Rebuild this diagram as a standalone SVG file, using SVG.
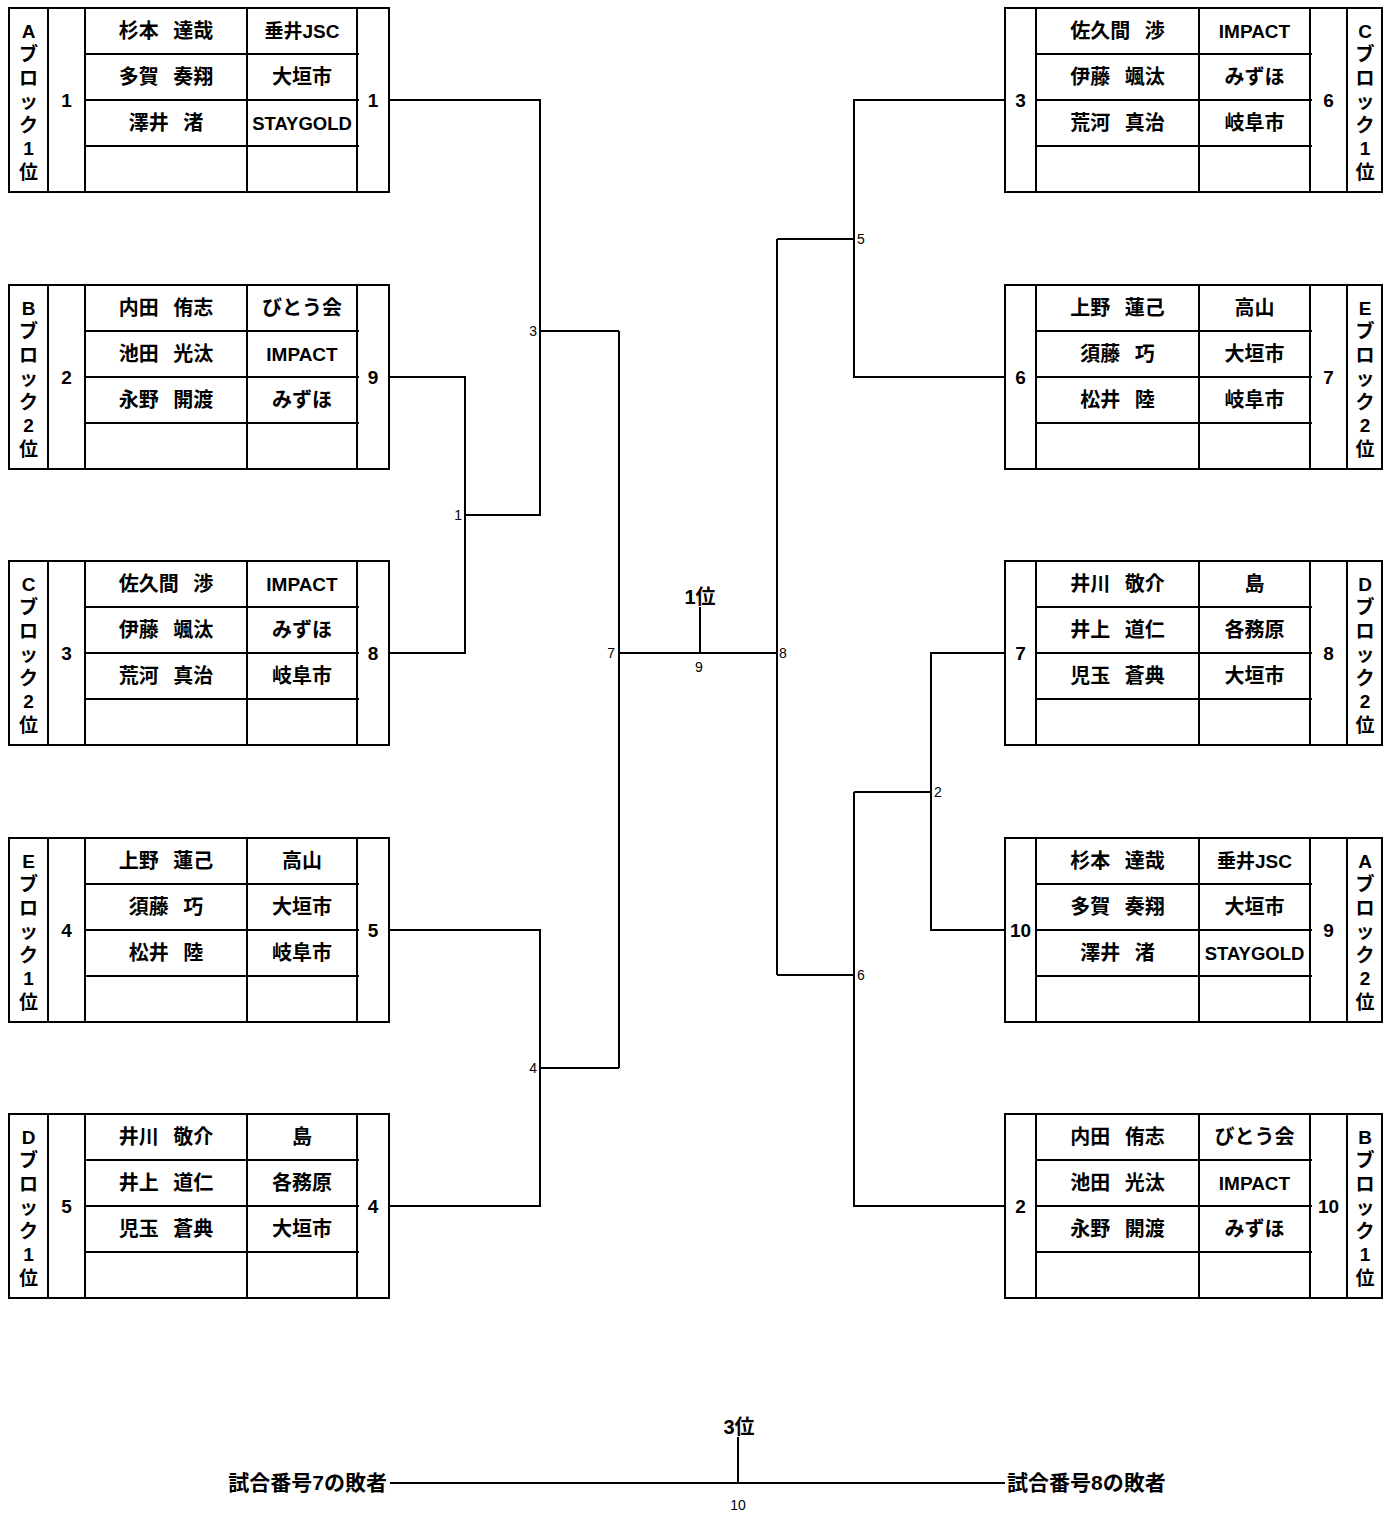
<svg xmlns="http://www.w3.org/2000/svg" xmlns:xlink="http://www.w3.org/1999/xlink" width="1383" height="1517" viewBox="0 0 1383 1517">
<style>
.f{fill:none;stroke:#000;stroke-width:2}
.t{font-family:"Liberation Sans","Noto Sans CJK JP",sans-serif;font-weight:bold;font-size:19px;fill:#000;text-anchor:middle}
.n{font-size:20px;word-spacing:9px}
.j{font-size:20px}
.g{font-size:18.5px}
.b{font-size:21px}
.s{font-family:"Liberation Sans","Noto Sans CJK JP",sans-serif;font-size:14px;fill:#000}
.m{text-anchor:middle}
.e{text-anchor:end}
.c{fill:none;stroke:#000;stroke-width:2}
</style>
<defs>
<g id="frameL" class="f">
<rect x="0" y="0" width="380" height="184"/>
<path d="M39 0V184M76 0V184M238 0V184M348 0V184M76 46H350M76 92H350M76 138H350"/>
</g>
<g id="frameR" class="f">
<rect x="0" y="0" width="377" height="184"/>
<path d="M31 0V184M194 0V184M305 0V184M342 0V184M31 46H307M31 92H307M31 138H307"/>
</g>
</defs>
<rect width="1383" height="1517" fill="#fff"/>

<g id="L1" transform="translate(9,8)">
<use xlink:href="#frameL"/>
<text class="t"><tspan x="19.5" y="29.5">A</tspan><tspan x="19.5" y="53">ブ</tspan><tspan x="19.5" y="76.5">ロ</tspan><tspan x="19.5" y="100">ッ</tspan><tspan x="19.5" y="123.5">ク</tspan><tspan x="19.5" y="147">1</tspan><tspan x="19.5" y="170.5">位</tspan></text>
<text class="t" x="57.5" y="99">1</text>
<text class="t n" x="157" y="30">杉本 達哉</text><text class="t" x="293" y="30">垂井JSC</text>
<text class="t n" x="157" y="76">多賀 奏翔</text><text class="t j" x="293" y="76">大垣市</text>
<text class="t n" x="157" y="122">澤井 渚</text><text class="t g" x="293" y="122">STAYGOLD</text>
<text class="t" x="364" y="99">1</text>
</g>

<g id="L2" transform="translate(9,285)">
<use xlink:href="#frameL"/>
<text class="t"><tspan x="19.5" y="29.5">B</tspan><tspan x="19.5" y="53">ブ</tspan><tspan x="19.5" y="76.5">ロ</tspan><tspan x="19.5" y="100">ッ</tspan><tspan x="19.5" y="123.5">ク</tspan><tspan x="19.5" y="147">2</tspan><tspan x="19.5" y="170.5">位</tspan></text>
<text class="t" x="57.5" y="99">2</text>
<text class="t n" x="157" y="30">内田 侑志</text><text class="t j" x="293" y="30">びとう会</text>
<text class="t n" x="157" y="76">池田 光汰</text><text class="t" x="293" y="76">IMPACT</text>
<text class="t n" x="157" y="122">永野 開渡</text><text class="t j" x="293" y="122">みずほ</text>
<text class="t" x="364" y="99">9</text>
</g>

<g id="L3" transform="translate(9,561)">
<use xlink:href="#frameL"/>
<text class="t"><tspan x="19.5" y="29.5">C</tspan><tspan x="19.5" y="53">ブ</tspan><tspan x="19.5" y="76.5">ロ</tspan><tspan x="19.5" y="100">ッ</tspan><tspan x="19.5" y="123.5">ク</tspan><tspan x="19.5" y="147">2</tspan><tspan x="19.5" y="170.5">位</tspan></text>
<text class="t" x="57.5" y="99">3</text>
<text class="t n" x="157" y="30">佐久間 渉</text><text class="t" x="293" y="30">IMPACT</text>
<text class="t n" x="157" y="76">伊藤 颯汰</text><text class="t j" x="293" y="76">みずほ</text>
<text class="t n" x="157" y="122">荒河 真治</text><text class="t j" x="293" y="122">岐阜市</text>
<text class="t" x="364" y="99">8</text>
</g>

<g id="L4" transform="translate(9,838)">
<use xlink:href="#frameL"/>
<text class="t"><tspan x="19.5" y="29.5">E</tspan><tspan x="19.5" y="53">ブ</tspan><tspan x="19.5" y="76.5">ロ</tspan><tspan x="19.5" y="100">ッ</tspan><tspan x="19.5" y="123.5">ク</tspan><tspan x="19.5" y="147">1</tspan><tspan x="19.5" y="170.5">位</tspan></text>
<text class="t" x="57.5" y="99">4</text>
<text class="t n" x="157" y="30">上野 蓮己</text><text class="t j" x="293" y="30">高山</text>
<text class="t n" x="157" y="76">須藤 巧</text><text class="t j" x="293" y="76">大垣市</text>
<text class="t n" x="157" y="122">松井 陸</text><text class="t j" x="293" y="122">岐阜市</text>
<text class="t" x="364" y="99">5</text>
</g>

<g id="L5" transform="translate(9,1114)">
<use xlink:href="#frameL"/>
<text class="t"><tspan x="19.5" y="29.5">D</tspan><tspan x="19.5" y="53">ブ</tspan><tspan x="19.5" y="76.5">ロ</tspan><tspan x="19.5" y="100">ッ</tspan><tspan x="19.5" y="123.5">ク</tspan><tspan x="19.5" y="147">1</tspan><tspan x="19.5" y="170.5">位</tspan></text>
<text class="t" x="57.5" y="99">5</text>
<text class="t n" x="157" y="30">井川 敬介</text><text class="t j" x="293" y="30">島</text>
<text class="t n" x="157" y="76">井上 道仁</text><text class="t j" x="293" y="76">各務原</text>
<text class="t n" x="157" y="122">児玉 蒼典</text><text class="t j" x="293" y="122">大垣市</text>
<text class="t" x="364" y="99">4</text>
</g>

<g id="R1" transform="translate(1005,8)">
<use xlink:href="#frameR"/>
<text class="t" x="15.5" y="99">3</text>
<text class="t n" x="112.5" y="30">佐久間 渉</text><text class="t" x="249.5" y="30">IMPACT</text>
<text class="t n" x="112.5" y="76">伊藤 颯汰</text><text class="t j" x="249.5" y="76">みずほ</text>
<text class="t n" x="112.5" y="122">荒河 真治</text><text class="t j" x="249.5" y="122">岐阜市</text>
<text class="t" x="323.5" y="99">6</text>
<text class="t"><tspan x="360" y="29.5">C</tspan><tspan x="360" y="53">ブ</tspan><tspan x="360" y="76.5">ロ</tspan><tspan x="360" y="100">ッ</tspan><tspan x="360" y="123.5">ク</tspan><tspan x="360" y="147">1</tspan><tspan x="360" y="170.5">位</tspan></text>
</g>

<g id="R2" transform="translate(1005,285)">
<use xlink:href="#frameR"/>
<text class="t" x="15.5" y="99">6</text>
<text class="t n" x="112.5" y="30">上野 蓮己</text><text class="t j" x="249.5" y="30">高山</text>
<text class="t n" x="112.5" y="76">須藤 巧</text><text class="t j" x="249.5" y="76">大垣市</text>
<text class="t n" x="112.5" y="122">松井 陸</text><text class="t j" x="249.5" y="122">岐阜市</text>
<text class="t" x="323.5" y="99">7</text>
<text class="t"><tspan x="360" y="29.5">E</tspan><tspan x="360" y="53">ブ</tspan><tspan x="360" y="76.5">ロ</tspan><tspan x="360" y="100">ッ</tspan><tspan x="360" y="123.5">ク</tspan><tspan x="360" y="147">2</tspan><tspan x="360" y="170.5">位</tspan></text>
</g>

<g id="R3" transform="translate(1005,561)">
<use xlink:href="#frameR"/>
<text class="t" x="15.5" y="99">7</text>
<text class="t n" x="112.5" y="30">井川 敬介</text><text class="t j" x="249.5" y="30">島</text>
<text class="t n" x="112.5" y="76">井上 道仁</text><text class="t j" x="249.5" y="76">各務原</text>
<text class="t n" x="112.5" y="122">児玉 蒼典</text><text class="t j" x="249.5" y="122">大垣市</text>
<text class="t" x="323.5" y="99">8</text>
<text class="t"><tspan x="360" y="29.5">D</tspan><tspan x="360" y="53">ブ</tspan><tspan x="360" y="76.5">ロ</tspan><tspan x="360" y="100">ッ</tspan><tspan x="360" y="123.5">ク</tspan><tspan x="360" y="147">2</tspan><tspan x="360" y="170.5">位</tspan></text>
</g>

<g id="R4" transform="translate(1005,838)">
<use xlink:href="#frameR"/>
<text class="t" x="15.5" y="99">10</text>
<text class="t n" x="112.5" y="30">杉本 達哉</text><text class="t" x="249.5" y="30">垂井JSC</text>
<text class="t n" x="112.5" y="76">多賀 奏翔</text><text class="t j" x="249.5" y="76">大垣市</text>
<text class="t n" x="112.5" y="122">澤井 渚</text><text class="t g" x="249.5" y="122">STAYGOLD</text>
<text class="t" x="323.5" y="99">9</text>
<text class="t"><tspan x="360" y="29.5">A</tspan><tspan x="360" y="53">ブ</tspan><tspan x="360" y="76.5">ロ</tspan><tspan x="360" y="100">ッ</tspan><tspan x="360" y="123.5">ク</tspan><tspan x="360" y="147">2</tspan><tspan x="360" y="170.5">位</tspan></text>
</g>

<g id="R5" transform="translate(1005,1114)">
<use xlink:href="#frameR"/>
<text class="t" x="15.5" y="99">2</text>
<text class="t n" x="112.5" y="30">内田 侑志</text><text class="t j" x="249.5" y="30">びとう会</text>
<text class="t n" x="112.5" y="76">池田 光汰</text><text class="t" x="249.5" y="76">IMPACT</text>
<text class="t n" x="112.5" y="122">永野 開渡</text><text class="t j" x="249.5" y="122">みずほ</text>
<text class="t" x="323.5" y="99">10</text>
<text class="t"><tspan x="360" y="29.5">B</tspan><tspan x="360" y="53">ブ</tspan><tspan x="360" y="76.5">ロ</tspan><tspan x="360" y="100">ッ</tspan><tspan x="360" y="123.5">ク</tspan><tspan x="360" y="147">1</tspan><tspan x="360" y="170.5">位</tspan></text>
</g>

<g id="connectors" class="c">
<path d="M389 100H540V515H465"/>
<path d="M389 377H465V653H389"/>
<path d="M540 331H619"/>
<path d="M389 930H540V1206H389"/>
<path d="M540 1068H619"/>
<path d="M619 331V1068"/>
<path d="M619 653H777"/>
<path d="M700 607V653"/>
<path d="M777 239V975"/>
<path d="M777 239H854"/>
<path d="M1005 100H854V377H1005"/>
<path d="M777 975H854"/>
<path d="M854 792V1206H1005"/>
<path d="M854 792H931"/>
<path d="M1005 653H931V930H1005"/>
<path d="M390 1483H1005"/>
<path d="M738 1437V1483"/>
</g>

<g id="labels">
<text class="s e" x="537" y="336">3</text>
<text class="s e" x="462" y="520">1</text>
<text class="s e" x="537" y="1073">4</text>
<text class="s e" x="615" y="658">7</text>
<text class="s m" x="699" y="672">9</text>
<text class="s" x="779" y="658">8</text>
<text class="s" x="857" y="244">5</text>
<text class="s" x="857" y="980">6</text>
<text class="s" x="934" y="797">2</text>
<text class="t j" x="700" y="604">1位</text>
<text class="t j" x="739" y="1434">3位</text>
<text class="t b" style="text-anchor:end" x="387" y="1490">試合番号7の敗者</text>
<text class="t b" style="text-anchor:start" x="1007" y="1490">試合番号8の敗者</text>
<text class="s m" x="738" y="1510">10</text>
</g>
</svg>
